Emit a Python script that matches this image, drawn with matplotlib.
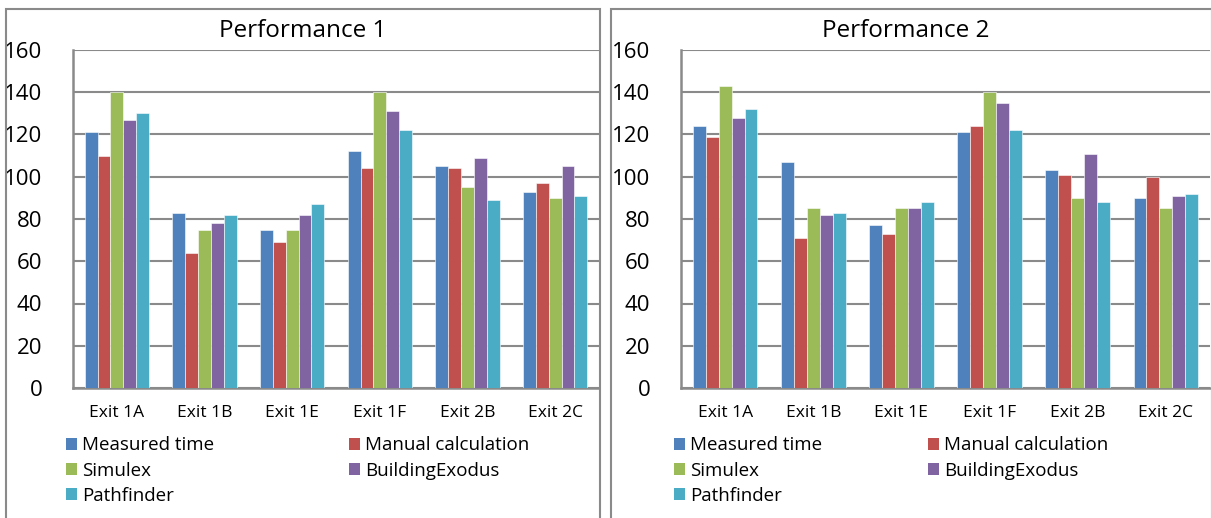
import numpy as np
import matplotlib.pyplot as plt
from matplotlib.patches import Rectangle, Patch

plt.rcParams['font.family'] = ['Open Sans', 'DejaVu Sans']

exits = ['Exit 1A', 'Exit 1B', 'Exit 1E', 'Exit 1F', 'Exit 2B', 'Exit 2C']
methods = ['Measured time', 'Manual calculation', 'Simulex', 'BuildingExodus', 'Pathfinder']
colors = ['#4F81BD', '#C0504D', '#9BBB59', '#8064A2', '#4BACC6']

# evacuation times per exit, one row per method
perf1 = [
    [121, 83, 75, 112, 105, 93],   # Measured time
    [110, 64, 69, 104, 104, 97],   # Manual calculation
    [140, 75, 75, 140, 95, 90],    # Simulex
    [127, 78, 82, 131, 109, 105],  # BuildingExodus
    [130, 82, 87, 122, 89, 91],    # Pathfinder
]
perf2 = [
    [124, 107, 77, 121, 103, 90],
    [119, 71, 73, 124, 101, 100],
    [143, 85, 85, 140, 90, 85],
    [128, 82, 85, 135, 111, 91],
    [132, 83, 88, 122, 88, 92],
]

W, H = 1211, 518
fig = plt.figure(figsize=(W / 100, H / 100), dpi=100)
grey = '#8a8a8a'


def draw_panel(rect, data, title, frame, title_x, leg1_x, leg2_x):
    # outer chart border
    fx0, fy0, fx1 = frame
    fig.patches.append(Rectangle((fx0 / W, 0 - 0.05), (fx1 - fx0) / W, 1 - fy0 / H + 0.05,
                                 transform=fig.transFigure, fill=False,
                                 edgecolor=grey, lw=1.5))
    ax = fig.add_axes(rect)
    x = np.arange(len(exits))
    bw = 0.735 / len(methods)
    handles = []
    for i, (vals, c) in enumerate(zip(data, colors)):
        ax.bar(x + (i - 2) * bw, vals, width=bw, color=c,
               edgecolor='white', linewidth=0.4, zorder=3)
        handles.append(Patch(facecolor=c, edgecolor='none'))
    ax.set_xlim(-0.5, len(exits) - 0.5)
    ax.set_ylim(0, 160)
    ax.set_yticks(range(0, 161, 20))
    ax.set_xticks(x)
    ax.set_xticklabels(exits, fontsize=12.5)
    ax.tick_params(axis='y', labelsize=16, length=0, pad=22)
    ax.tick_params(axis='x', length=0, pad=12)
    ax.yaxis.grid(True, color=grey, lw=1.5, zorder=0)
    for s in ['top', 'right']:
        ax.spines[s].set_visible(False)
    for s in ['left', 'bottom']:
        ax.spines[s].set_color(grey)
        ax.spines[s].set_linewidth(1.8)
    fig.text(title_x / W, 1 - 31 / H, title, fontsize=17.5, ha='center', va='center')

    # legend laid out row by row in two columns
    col1 = [0, 2, 4]
    col2 = [1, 3]
    kw = dict(loc='upper left', frameon=False, fontsize=13.5, handlelength=0.6,
              handleheight=0.6, handletextpad=0.3, labelspacing=0.38,
              borderaxespad=0, bbox_transform=fig.transFigure)
    l1 = ax.legend([handles[i] for i in col1], [methods[i] for i in col1],
                   bbox_to_anchor=(leg1_x / W, 1 - 429 / H), **kw)
    ax.add_artist(l1)
    ax.legend([handles[i] for i in col2], [methods[i] for i in col2],
              bbox_to_anchor=(leg2_x / W, 1 - 429 / H), **kw)
    return ax


draw_panel([73 / W, 1 - 388 / H, 526 / W, 338 / H], perf1, 'Performance 1',
           (6, 9, 600), 303, 58, 341)
draw_panel([681 / W, 1 - 388 / H, 529 / W, 338 / H], perf2, 'Performance 2',
           (611, 9, 1212), 906, 666, 920)

fig.savefig('out.png', dpi=100)
